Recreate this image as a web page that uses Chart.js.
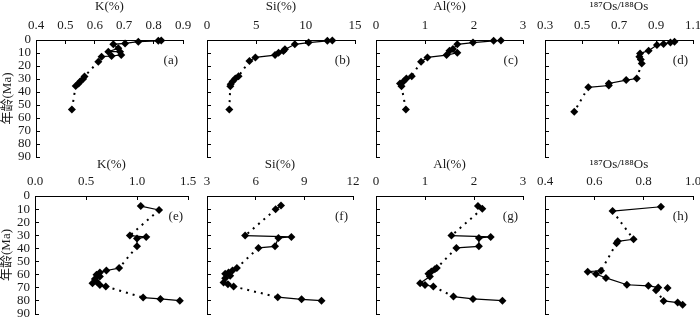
<!DOCTYPE html>
<html lang="zh-CN">
<head>
<meta charset="UTF-8" />
<title>K, Si, Al, Os</title>
<script src="https://cdn.jsdelivr.net/npm/chart.js@4"></script>
<style>
  body { margin: 0; background: #fff; }
  #fig { position: relative; width: 700px; height: 318px; overflow: hidden; }
  #fig canvas { position: absolute; }
</style>
</head>
<body>
<div id="fig"></div>
<script>
  // eixo de idade (Ma), comum a todos os paineis
  const idadeTicks = [0, 10, 20, 30, 40, 50, 60, 70, 80, 90];

  // ligacao entre pontos: s = linha cheia, d = pontilhada, n = sem linha
  // (a) K
  const idadeA = [0.3, 0.6, 1.3, 2.6, 3.3, 6.4, 9.0, 9.0, 11.5, 12.3, 12.8, 16.7, 28.0, 30.0, 32.0, 33.5, 35.4, 53.5];
  const kA = [0.826, 0.816, 0.748, 0.703, 0.663, 0.68, 0.646, 0.686, 0.69, 0.657, 0.623, 0.612, 0.565, 0.56, 0.55, 0.545, 0.535, 0.522];
  const ligA = "sssssssssssdssssd";
  const ticksA = [0.4, 0.5, 0.6, 0.7, 0.8, 0.9];

  // (b) Si
  const idadeB = [0.3, 0.6, 2.0, 3.3, 7.2, 8.5, 9.8, 11.6, 13.4, 16.2, 27.8, 29.6, 32.0, 34.0, 35.5, 53.5];
  const siB = [12.7, 12.2, 10.3, 8.9, 7.9, 7.75, 7.25, 6.9, 4.9, 4.3, 3.2, 2.87, 2.6, 2.4, 2.36, 2.26];
  const ligB = "sssssssssdssssd";
  const ticksB = [0, 5, 10, 15];

  // (c) Al
  const idadeC = [0.3, 0.6, 2.0, 3.3, 7.0, 8.2, 9.8, 11.6, 13.4, 16.7, 27.8, 29.6, 32.0, 33.4, 35.5, 53.5];
  const alC = [2.55, 2.4, 1.98, 1.66, 1.57, 1.5, 1.66, 1.44, 1.05, 0.92, 0.73, 0.62, 0.56, 0.49, 0.52, 0.61];
  const ligC = "sssssssssdssssd";
  const ticksC = [0, 1, 2, 3];

  // (d) 187Os/188Os
  const idadeD = [1.3, 2.0, 3.0, 3.9, 8.2, 10.3, 12.9, 15.0, 18.0, 29.6, 30.8, 33.4, 35.0, 36.4, 55.2];
  const osD = [1.0, 0.978, 0.941, 0.905, 0.86, 0.814, 0.81, 0.818, 0.823, 0.796, 0.739, 0.645, 0.645, 0.534, 0.458];
  const ligD = "ssssssssdssssd";
  const ticksD = [0.3, 0.5, 0.7, 0.9, 1.1];

  // (e) K
  const idadeE = [7.7, 10.7, 30.2, 31.2, 32.5, 38.4, 55.0, 56.8, 58.3, 60.0, 61.4, 63.4, 65.2, 66.5, 67.8, 69.0, 77.5, 78.5, 79.8];
  const kE = [1.037, 1.216, 0.93, 1.09, 1.0, 1.0, 0.825, 0.70, 0.636, 0.603, 0.636, 0.587, 0.603, 0.564, 0.636, 0.694, 1.06, 1.23, 1.42];
  const ligE = "sdsssdsssssssssdss";
  const ticksE = [0.0, 0.5, 1.0, 1.5];

  // (f) Si
  const idadeF = [7.2, 10.2, 30.2, 31.2, 32.0, 38.4, 39.6, 55.0, 56.8, 58.3, 59.3, 60.9, 62.7, 66.0, 67.3, 69.0, 77.2, 78.8, 79.8];
  const siF = [7.56, 7.23, 5.35, 8.2, 7.4, 7.19, 6.17, 4.84, 4.57, 4.33, 4.12, 4.43, 4.12, 4.02, 4.29, 4.64, 7.36, 8.83, 10.06];
  const ligF = "sdssssdssssssssdss";
  const ticksF = [3, 6, 9, 12];

  // (g) Al
  const idadeG = [7.7, 9.7, 30.2, 31.2, 32.0, 38.4, 39.6, 55.0, 55.8, 57.5, 59.3, 61.4, 66.5, 67.8, 69.0, 76.7, 78.5, 79.8];
  const alG = [2.08, 2.17, 1.54, 2.34, 2.1, 2.1, 1.64, 1.24, 1.2, 1.13, 1.07, 1.1, 0.9, 1.0, 1.17, 1.58, 1.98, 2.58];
  const ligG = "sdssssdsssssssdss";
  const ticksG = [0, 1, 2, 3];

  // (h) 187Os/188Os
  const idadeH = [8.2, 11.5, 33.0, 34.6, 36.0, 57.0, 57.7, 59.5, 62.5, 67.7, 68.5, 69.8, 71.8, 80.0, 81.3, 83.0, 70.2];
  const osH = [0.87, 0.674, 0.759, 0.695, 0.69, 0.627, 0.573, 0.607, 0.647, 0.732, 0.819, 0.859, 0.85, 0.881, 0.938, 0.958, 0.897];
  const ligH = "sdssdsssssssdssn";
  const ticksH = [0.4, 0.6, 0.8, 1.0];

  const fonte = "'Liberation Serif', 'Times New Roman', 'Noto Sans CJK SC', serif";
  const cor = "#1a1a1a";
  const fig = document.getElementById("fig");

  // rotulo (a), (b)... no canto superior direito
  const rotulo = {
    id: "rotulo",
    afterDraw(chart, args, opts) {
      const ctx = chart.ctx;
      const area = chart.chartArea;
      ctx.save();
      ctx.font = "13px " + fonte;
      ctx.fillStyle = cor;
      ctx.textAlign = "right";
      ctx.textBaseline = "middle";
      ctx.fillText(opts.texto, area.right - 5, area.top + 21);
      ctx.restore();
    },
  };

  function painel(p) {
    const yw = p.primeiro ? 36 : 16;
    const canvas = document.createElement("canvas");
    canvas.width = yw + (p.direita - p.esquerda) + 14;
    canvas.height = 40 + (p.baixo - p.cima) + 8;
    canvas.style.left = p.esquerda - yw + "px";
    canvas.style.top = p.cima - 40 + "px";
    fig.appendChild(canvas);

    const pontos = [];
    for (let i = 0; i < p.idade.length; i++) {
      pontos.push({ x: p.valor[i], y: p.idade[i] });
    }

    new Chart(canvas, {
      type: "scatter",
      data: {
        datasets: [
          {
            // pontos e trechos continuos
            data: pontos,
            showLine: true,
            clip: false,
            borderColor: "#000",
            backgroundColor: "#000",
            borderWidth: 1.2,
            pointStyle: "rectRot",
            pointRadius: 4,
            pointBorderWidth: 0,
            segment: {
              borderColor: (ctx) => (p.ligacao[ctx.p0DataIndex] === "s" ? "#000" : "rgba(0,0,0,0)"),
            },
          },
          {
            // trechos pontilhados
            data: pontos,
            showLine: true,
            clip: false,
            pointRadius: 0,
            borderWidth: 2,
            borderDash: [2, 5],
            borderColor: "#000",
            segment: {
              borderColor: (ctx) => (p.ligacao[ctx.p0DataIndex] === "d" ? "#000" : "rgba(0,0,0,0)"),
            },
          },
        ],
      },
      options: {
        responsive: false,
        animation: false,
        events: [],
        layout: { padding: { left: 0, top: 0, right: 14, bottom: 8 } },
        plugins: {
          legend: { display: false },
          tooltip: { enabled: false },
          rotulo: { texto: p.rotulo },
        },
        scales: {
          x: {
            type: "linear",
            position: "top",
            min: p.ticks[0],
            max: p.ticks[p.ticks.length - 1],
            afterBuildTicks: (s) => {
              s.ticks = p.ticks.map((v) => ({ value: v }));
            },
            ticks: {
              callback: (v) => Number(v).toFixed(p.casas),
              font: { family: fonte, size: 13 },
              color: cor,
              padding: 11,
              maxRotation: 0,
              autoSkip: false,
            },
            grid: { drawOnChartArea: false, tickLength: -4, color: "#000" },
            border: { color: "#000", width: 1 },
            title: {
              display: true,
              text: p.titulo,
              font: { family: fonte, size: 13, lineHeight: 1 },
              color: cor,
              padding: { top: p.tituloPad, bottom: 0 },
            },
            afterFit: (s) => {
              s.height = 40;
              s.paddingLeft = 0;
              s.paddingRight = 0;
            },
          },
          y: {
            type: "linear",
            reverse: true,
            min: 0,
            max: 90,
            afterBuildTicks: (s) => {
              s.ticks = idadeTicks.map((v) => ({ value: v }));
            },
            ticks: {
              display: p.primeiro,
              font: { family: fonte, size: 13 },
              color: cor,
              padding: 9,
              autoSkip: false,
            },
            grid: { drawOnChartArea: false, tickLength: -4, color: "#000" },
            border: { color: "#000", width: 1 },
            title: {
              display: p.primeiro,
              text: "年龄(Ma)",
              font: { family: fonte, size: 13, lineHeight: 1 },
              color: cor,
              padding: { top: 1.5, bottom: 0 },
            },
            afterFit: (s) => {
              s.width = yw;
              s.paddingTop = 0;
              s.paddingBottom = 0;
            },
          },
        },
      },
      plugins: [rotulo],
    });
  }

  const os = "\u00B9\u2078\u2077Os/\u00B9\u2078\u2078Os";

  painel({ rotulo: "(a)", titulo: "K(%)", idade: idadeA, valor: kA, ligacao: ligA, ticks: ticksA, casas: 1, primeiro: true, esquerda: 36, direita: 183, cima: 40, baixo: 157, tituloPad: 0 });
  painel({ rotulo: "(b)", titulo: "Si(%)", idade: idadeB, valor: siB, ligacao: ligB, ticks: ticksB, casas: 0, primeiro: false, esquerda: 207, direita: 355, cima: 40, baixo: 157, tituloPad: 0 });
  painel({ rotulo: "(c)", titulo: "Al(%)", idade: idadeC, valor: alC, ligacao: ligC, ticks: ticksC, casas: 0, primeiro: false, esquerda: 376, direita: 523, cima: 40, baixo: 157, tituloPad: 0 });
  painel({ rotulo: "(d)", titulo: os, idade: idadeD, valor: osD, ligacao: ligD, ticks: ticksD, casas: 1, primeiro: false, esquerda: 545, direita: 693, cima: 40, baixo: 157, tituloPad: 0 });

  painel({ rotulo: "(e)", titulo: "K(%)", idade: idadeE, valor: kE, ligacao: ligE, ticks: ticksE, casas: 1, primeiro: true, esquerda: 35, direita: 188, cima: 196, baixo: 314, tituloPad: 2 });
  painel({ rotulo: "(f)", titulo: "Si(%)", idade: idadeF, valor: siF, ligacao: ligF, ticks: ticksF, casas: 0, primeiro: false, esquerda: 207, direita: 353, cima: 196, baixo: 314, tituloPad: 2 });
  painel({ rotulo: "(g)", titulo: "Al(%)", idade: idadeG, valor: alG, ligacao: ligG, ticks: ticksG, casas: 0, primeiro: false, esquerda: 376, direita: 523, cima: 196, baixo: 314, tituloPad: 2 });
  painel({ rotulo: "(h)", titulo: os, idade: idadeH, valor: osH, ligacao: ligH, ticks: ticksH, casas: 1, primeiro: false, esquerda: 545, direita: 693, cima: 196, baixo: 314, tituloPad: 2 });
</script>
</body>
</html>
